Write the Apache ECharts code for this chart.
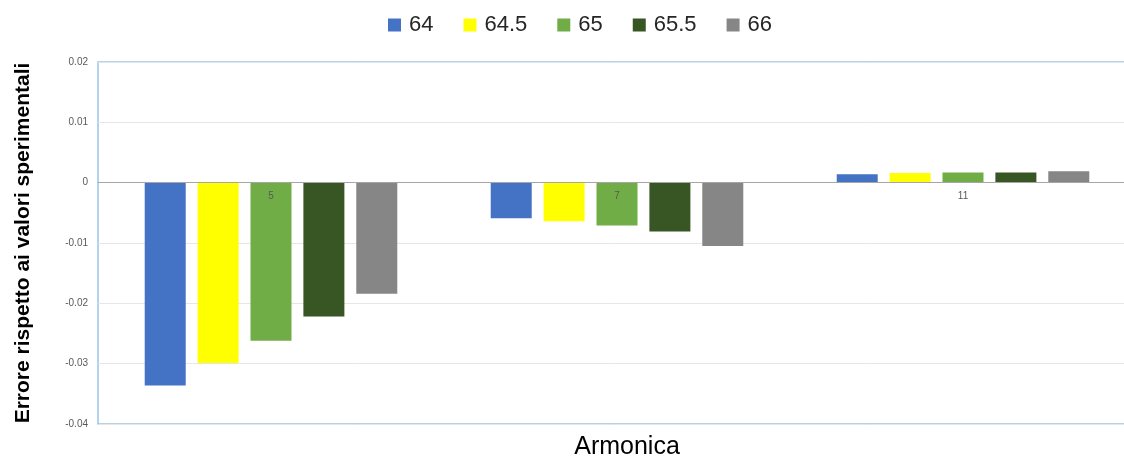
<!DOCTYPE html>
<html>
<head>
<meta charset="utf-8">
<script src="https://cdn.jsdelivr.net/npm/echarts@6/dist/echarts.min.js"></script>
<style>html,body{margin:0;padding:0;background:#fff}#c{width:1124px;height:457px}</style>
</head>
<body>
<div id="c"></div>
<script>
const categories = ['5', '7', '11'];
const seriesNames = ['64', '64.5', '65', '65.5', '66'];
const s64   = [-0.0336, -0.0059, 0.0014];
const s64_5 = [-0.0299, -0.0064, 0.0016];
const s65   = [-0.0262, -0.0071, 0.0017];
const s65_5 = [-0.0222, -0.0081, 0.0017];
const s66   = [-0.0184, -0.0105, 0.0019];
const yTicks = ['-0.04', '-0.03', '-0.02', '-0.01', '0', '0.01', '0.02'];
const colors = ['#4472C4', '#FFFF00', '#70AD47', '#375623', '#868686'];
const seriesData = [s64, s64_5, s65, s65_5, s66];

const yMin = -0.04, yMax = 0.02;
const gridTop = 62, gridBottom = 33, chartH = 457;
const plotH = chartH - gridTop - gridBottom;
const zeroOffset = -plotH * (0 - yMin) / (yMax - yMin);

const chart = echarts.init(document.getElementById('c'));
chart.setOption({
  animation: false,
  color: colors,
  textStyle: { fontFamily: 'Liberation Sans' },
  legend: {
    data: seriesNames,
    left: 388, top: 14, padding: 0,
    itemWidth: 13, itemHeight: 13, itemGap: 30,
    icon: 'rect',
    textStyle: { fontSize: 22, color: '#262626', fontFamily: 'Liberation Sans', padding: [0, 0, 0, 3] }
  },
  title: {
    text: 'Armonica', left: 622, top: 430, textAlign: 'center',
    textStyle: { fontSize: 25, fontWeight: 'normal', color: '#000', fontFamily: 'Liberation Sans' }
  },
  grid: {
    left: 98, width: 1038, top: gridTop, bottom: gridBottom,
    outerBoundsMode: 'none', containLabel: false,
    show: true, borderColor: '#9DC3E6', borderWidth: 1.5, backgroundColor: 'transparent'
  },
  xAxis: {
    type: 'category', data: categories, z: 5,
    offset: zeroOffset,
    axisLine: { onZero: false, lineStyle: { color: '#A6A6A6', width: 1 } },
    axisTick: { show: false },
    axisLabel: { fontSize: 10, color: '#595959', margin: 9 },
    splitLine: { show: false }
  },
  yAxis: {
    type: 'value', min: yMin, max: yMax, interval: 0.01,
    name: 'Errore rispetto ai valori sperimentali',
    nameLocation: 'middle', nameGap: 64,
    nameTextStyle: { fontSize: 21, fontWeight: 'bold', color: '#000', fontFamily: 'Liberation Sans' },
    axisLine: { show: false }, axisTick: { show: false },
    axisLabel: {
      fontSize: 10, color: '#595959', margin: 10,
      formatter: function (v) { const i = Math.round((v - yMin) / 0.01); return yTicks[i] !== undefined ? yTicks[i] : String(v); }
    },
    splitLine: { lineStyle: { color: '#E6E6E6', width: 1 } }
  },
  series: seriesNames.map((n, i) => ({
    name: n, type: 'bar', data: seriesData[i],
    barWidth: 41, barGap: '29%',
    itemStyle: { color: colors[i] }
  }))
});
</script>
</body>
</html>
